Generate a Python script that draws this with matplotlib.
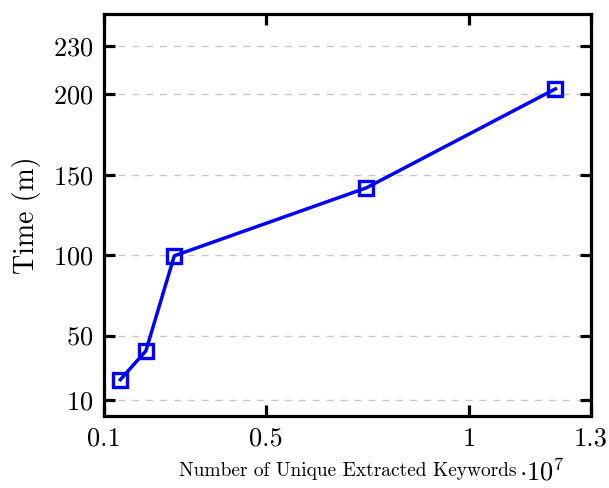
import numpy as np
import matplotlib.pyplot as plt

plt.rcParams['font.family'] = 'serif'
plt.rcParams['font.serif'] = ['cmr10']
plt.rcParams['mathtext.fontset'] = 'cm'
plt.rcParams['axes.formatter.use_mathtext'] = True

# keywords (x 1e7) vs. processing time in minutes
keywords = [0.14, 0.203, 0.273, 0.747, 1.213]
time_m = [22.6, 40.5, 99.6, 141.9, 203.4]

xticks = [0.1, 0.5, 1, 1.3]
xticklabels = ['0.1', '0.5', '1', '1.3']
yticks = [10, 50, 100, 150, 200, 230]

fig = plt.figure(figsize=(6.09, 4.88), dpi=100)
ax = fig.add_axes([0.171, 0.1475, 0.799, 0.824])

ax.plot(keywords, time_m, color='#0000ff', linewidth=2.5, marker='s',
        markersize=9.5, markerfacecolor='none', markeredgewidth=2.4,
        markeredgecolor='#0000ff', zorder=3)

ax.set_xlim(0.1, 1.3)
ax.set_ylim(0, 250)
ax.set_xticks(xticks)
ax.set_xticklabels(xticklabels)
ax.set_yticks(yticks)

ax.grid(axis='y', linestyle=(0, (5, 5)), color='#c8c8c8', linewidth=1)
ax.set_axisbelow(True)

for s in ax.spines.values():
    s.set_linewidth(2.3)
ax.tick_params(direction='in', length=8, width=2.3, top=True, right=True,
               labelsize=19, pad=8)

ax.set_ylabel('Time (m)', fontsize=20, labelpad=8)
fig.text(0.571, 0.024, 'Number of Unique Extracted Keywords', fontsize=14,
         ha='center', va='baseline')
fig.text(0.853, 0.016, r'$\cdot 10^{7}$', fontsize=19, ha='left', va='baseline')

fig.savefig('out.png', dpi=100)
